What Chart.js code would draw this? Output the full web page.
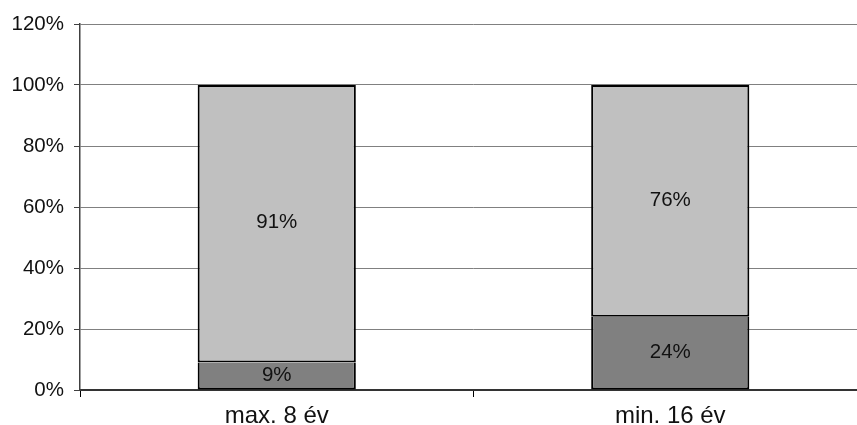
<!DOCTYPE html>
<html lang="hu">
<head>
    <meta charset="UTF-8">
    <title>max. 8 év / min. 16 év</title>
    <script src="https://cdn.jsdelivr.net/npm/chart.js"></script>
    <style>
        html, body { margin: 0; padding: 0; background: #fff; overflow: hidden; }
        #wrap { width: 867px; height: 425px; }
    </style>
</head>
<body>
    <div id="wrap"><canvas id="chart" width="867" height="425"></canvas></div>

    <script>
        // data
        const categories = ['max. 8 év', 'min. 16 év'];
        const lowerShare = [9, 24];
        const upperShare = [91, 76];
        const yTicks = [0, 20, 40, 60, 80, 100, 120];

        const FONT = '"Liberation Sans", Arial, sans-serif';

        // draw the percent labels in the middle of each bar segment
        const segmentLabels = {
            id: 'segmentLabels',
            afterDatasetsDraw(chart) {
                const ctx = chart.ctx;
                ctx.save();
                ctx.font = '20.5px ' + FONT;
                ctx.fillStyle = '#111';
                ctx.textAlign = 'center';
                ctx.textBaseline = 'middle';
                chart.data.datasets.forEach((ds, i) => {
                    chart.getDatasetMeta(i).data.forEach((bar, j) => {
                        const p = bar.getProps(['x', 'y', 'base'], true);
                        ctx.fillText(ds.data[j] + '%', p.x, (p.y + p.base) / 2 - 1);
                    });
                });
                ctx.restore();
            }
        };

        new Chart(document.getElementById('chart'), {
            type: 'bar',
            data: {
                labels: categories,
                datasets: [
                    {
                        data: lowerShare,
                        backgroundColor: '#808080',
                        borderColor: '#000',
                        borderWidth: 2,
                        borderSkipped: 'top',
                        barPercentage: 0.402,
                        categoryPercentage: 1
                    },
                    {
                        data: upperShare,
                        backgroundColor: '#c0c0c0',
                        borderColor: '#000',
                        borderWidth: 2,
                        borderSkipped: false,
                        barPercentage: 0.402,
                        categoryPercentage: 1
                    }
                ]
            },
            options: {
                responsive: false,
                animation: false,
                layout: { padding: { top: 24, left: 0, right: 0, bottom: 0 } },
                plugins: { legend: { display: false }, tooltip: { enabled: false } },
                scales: {
                    x: {
                        stacked: true,
                        grid: { offset: true, drawOnChartArea: false, drawTicks: true, tickLength: 7, tickColor: '#000' },
                        border: { color: '#333', width: 2 },
                        ticks: { color: '#111', font: { family: FONT, size: 24 }, padding: 5 },
                        afterFit(axis) { axis.height = 35; }
                    },
                    y: {
                        stacked: true,
                        min: 0,
                        max: 120,
                        afterBuildTicks(axis) { axis.ticks = yTicks.map(v => ({ value: v })); },
                        grid: { color: '#808080', lineWidth: 1, tickColor: '#404040', tickLength: 6 },
                        border: { color: '#404040', width: 1.5 },
                        ticks: {
                            color: '#111',
                            font: { family: FONT, size: 20.5 },
                            padding: 10,
                            callback: v => v + '%'
                        },
                        afterFit(axis) { axis.width = 80; }
                    }
                }
            },
            plugins: [segmentLabels]
        });
    </script>
</body>
</html>
